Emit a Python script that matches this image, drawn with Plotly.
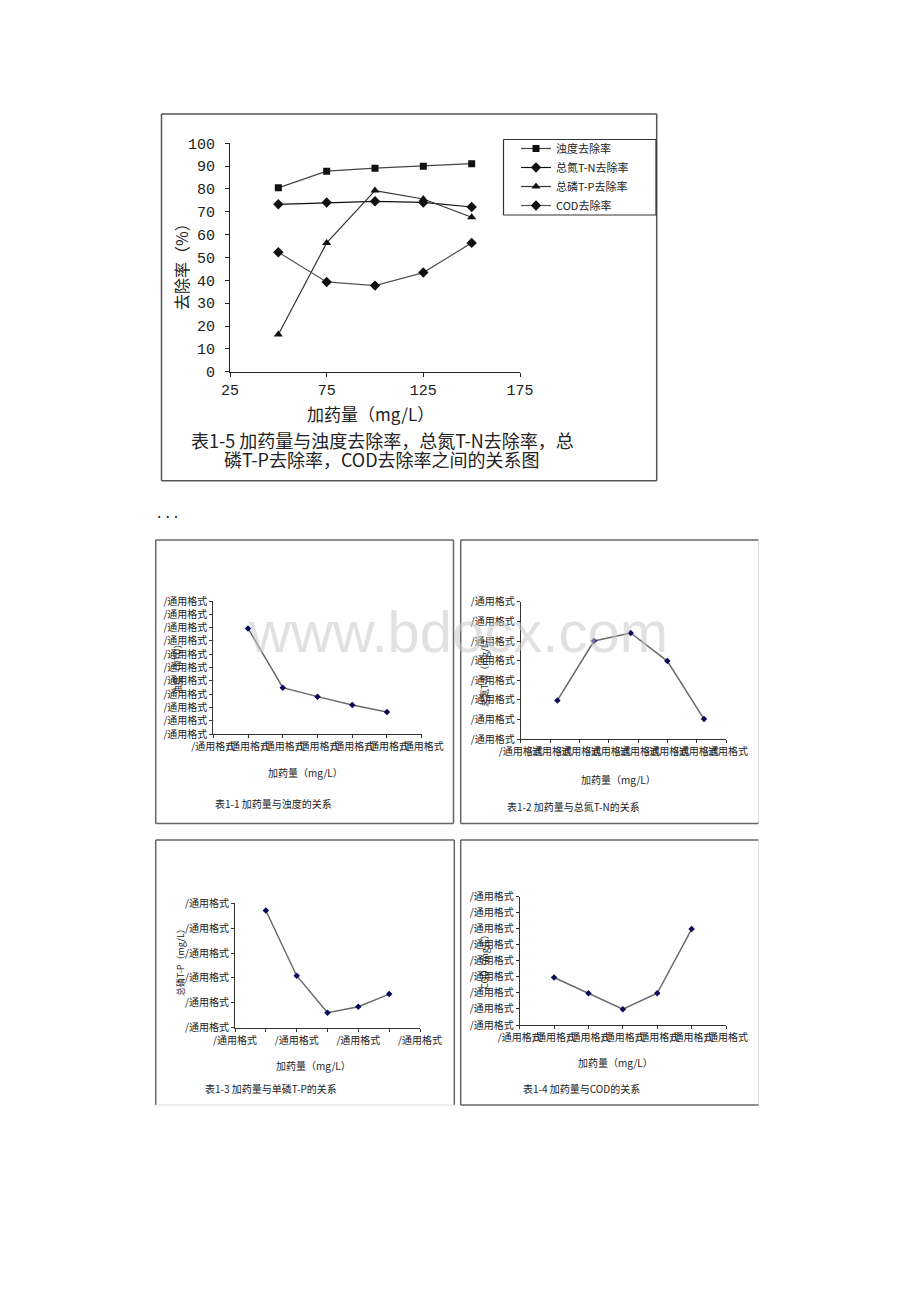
import plotly.graph_objects as go

W, H = 920, 1302
OFF = 8  # the page body margin shifts the figure by this many pixels

# ---------------- data ----------------
dose = [50, 75, 100, 125, 150]
turbidity_removal = [80.5, 87.8, 89.1, 90.0, 91.1]
tn_removal = [73.3, 74.1, 74.6, 74.1, 72.1]
tp_removal = [16.3, 56.4, 79.3, 75.6, 67.6]
cod_removal = [52.3, 39.3, 37.7, 43.4, 56.4]
series_names = ["浊度去除率", "总氮T-N去除率", "总磷T-P去除率", "COD去除率"]
top_xticks = [25, 75, 125, 175]
top_yticks = [0, 10, 20, 30, 40, 50, 60, 70, 80, 90, 100]

# small charts (values in tick units; tick labels are broken Excel format strings)
turbidity_vals = [7.94, 3.48, 2.81, 2.18, 1.65]
tn_vals = [1.98, 5.0, 5.41, 3.98, 1.03]
tp_vals = [4.71, 2.09, 0.60, 0.84, 1.35]
cod_vals = [2.96, 1.98, 0.98, 1.98, 5.98]
fmt_label = "/通用格式"
x_ticks_25 = [25, 50, 75, 100, 125, 150, 175]
x_ticks_20 = [25, 45, 65, 85, 105, 125, 145, 165]

CJK = "Noto Sans CJK SC"
MONO = "Liberation Mono"


def fx(px):
    return (px - OFF) / W


def fy(py):
    return 1 - (py - OFF) / H


fig = go.Figure()

# ---------------- top chart ----------------
top_styles = [
    dict(symbol="square", size=7, color="#111", line="#444"),
    dict(symbol="diamond", size=8, color="#111", line="#111"),
    dict(symbol="triangle-up", size=8, color="#111", line="#333"),
    dict(symbol="diamond", size=8, color="#111", line="#555"),
]
for name, vals, st in zip(series_names,
                          [turbidity_removal, tn_removal, tp_removal, cod_removal],
                          top_styles):
    fig.add_trace(go.Scatter(
        x=dose, y=vals, name=name, mode="lines+markers",
        line=dict(color=st["line"], width=1.2),
        marker=dict(symbol=st["symbol"], size=st["size"], color=st["color"]),
        xaxis="x", yaxis="y", showlegend=True, hoverinfo="skip"))

axis_common = dict(showline=True, linecolor="#222", linewidth=1, ticks="outside",
                   ticklen=4, tickcolor="#222", showgrid=False, zeroline=False,
                   fixedrange=True, tickangle=0, automargin=False)

layout = dict(
    width=W, height=H,
    margin=dict(l=0, r=0, t=0, b=0, pad=0, autoexpand=False),
    autosize=False,
    paper_bgcolor="white", plot_bgcolor="white",
    showlegend=True,
    legend=dict(x=fx(516), y=fy(134), xanchor="left", yanchor="top",
                bgcolor="rgba(0,0,0,0)", borderwidth=0,
                font=dict(family=CJK, size=11, color="#222"),
                tracegroupgap=0, itemwidth=30),
    xaxis=dict(domain=[fx(230), fx(520)], range=[25, 175], tickvals=top_xticks,
               tickfont=dict(family=MONO, size=15, color="#222"), anchor="y",
               **axis_common),
    yaxis=dict(domain=[fy(371.7), fy(143.3)], range=[0, 100], tickvals=top_yticks,
               tickfont=dict(family=MONO, size=15, color="#222"), anchor="x",
               ticklabelstandoff=7, **axis_common),
)

small_axis = dict(showline=True, linecolor="#333", linewidth=1, ticks="outside",
                  ticklen=3, tickcolor="#333", showgrid=False, zeroline=False,
                  fixedrange=True, tickangle=0, automargin=False,
                  tickfont=dict(family=CJK, size=10, color="#222"))

small_charts = [
    # (vals, xdomain px, ydomain px(bottom, top), xrange, xticks, xticktext, yrange)
    (turbidity_vals, (213.3, 421.7), (734, 601), [25, 175], x_ticks_25,
     [fmt_label] * 7, 10),
    (tn_vals, (520.7, 726), (739.3, 601.7), [25, 165], x_ticks_20,
     [fmt_label] * 8, 7),
    (tp_vals, (235, 420), (1027.7, 903.3), [25, 175], x_ticks_25,
     [fmt_label, "", fmt_label, "", fmt_label, "", fmt_label], 5),
    (cod_vals, (519.7, 726), (1025, 896.7), [25, 175], x_ticks_25,
     [fmt_label] * 7, 8),
]

for i, (vals, xd, yd, xr, xt, xtt, ymax) in enumerate(small_charts, start=2):
    fig.add_trace(go.Scatter(
        x=dose, y=vals, mode="lines+markers", showlegend=False,
        line=dict(color="#6a6a6a", width=1.5),
        marker=dict(symbol="diamond", size=5, color="#0a0a5a"),
        xaxis=f"x{i}", yaxis=f"y{i}", hoverinfo="skip"))
    layout[f"xaxis{i}"] = dict(domain=[fx(xd[0]), fx(xd[1])], range=xr,
                               tickvals=xt, ticktext=xtt, anchor=f"y{i}",
                               **small_axis)
    yt = list(range(0, ymax + 1))
    layout[f"yaxis{i}"] = dict(domain=[fy(yd[0]), fy(yd[1])], range=[0, ymax],
                               tickvals=yt, ticktext=[fmt_label] * len(yt),
                               anchor=f"x{i}", **small_axis)

fig.update_layout(**layout)


def ann(text, x, y, size, family=CJK, xanchor="center", angle=0, color="#222"):
    fig.add_annotation(text=text, x=fx(x), y=fy(y), xref="paper", yref="paper",
                       xanchor=xanchor, yanchor="middle", showarrow=False,
                       textangle=angle, font=dict(family=family, size=size, color=color))


# top chart texts
ann("去除率（%）", 181, 263, 16, angle=-90)
ann("加药量（mg/L）", 370, 414, 17)
ann("表1-5 加药量与浊度去除率，总氮T-N去除率，总", 382, 440, 18)
ann("磷T-P去除率，COD去除率之间的关系图", 382, 458.5, 18)
ann("...", 167, 514, 14, family=MONO)

# small chart texts
ann("浊度（NTU）", 177, 667, 9, angle=-90)
ann("加药量（mg/L）", 305, 773, 10)
ann("表1-1 加药量与浊度的关系", 213, 803, 10, xanchor="left")

ann("总氮T-N（mg/L）", 485, 670, 9, angle=-90)
ann("加药量（mg/L）", 618, 779, 10)
ann("表1-2 加药量与总氮T-N的关系", 504.7, 806.7, 10, xanchor="left")

ann("总磷T-P（mg/L）", 180, 960, 9, angle=-90)
ann("加药量（mg/L）", 313, 1065, 10)
ann("表1-3 加药量与单磷T-P的关系", 203.3, 1088, 10, xanchor="left")

ann("COD（mg/L）", 484, 960, 9, angle=-90)
ann("加药量（mg/L）", 615, 1062, 10)
ann("表1-4 加药量与COD的关系", 521.3, 1088, 10, xanchor="left")

# watermark
ann("www.bdocx.com", 458, 632, 58, family="Liberation Sans", color="rgba(200,200,200,0.55)")


# frame lines
def line(x0, y0, x1, y1, color="#666", width=1.5):
    fig.add_shape(type="line", xref="paper", yref="paper",
                  x0=fx(x0), y0=fy(y0), x1=fx(x1), y1=fy(y1),
                  line=dict(color=color, width=width))


def box(x0, y0, x1, y1, color="#666", right_color=None, bottom_color=None, width=1.5):
    line(x0, y0, x1, y0, color, width)
    line(x0, y0, x0, y1, color, width)
    line(x1, y0, x1, y1, right_color or color, width if right_color is None else 1)
    line(x0, y1, x1, y1, bottom_color or color, width if bottom_color is None else 1)


box(161.5, 114, 656.7, 480.7, "#555")
box(503.5, 139.5, 656, 215, "#333", width=1.2)  # legend frame
box(155.7, 540, 453.5, 823.5)
box(460.7, 540, 758.5, 823.5, right_color="#dddddd")
box(155.7, 840, 454.3, 1105, bottom_color="#dddddd")
box(460.7, 840, 758.5, 1105, right_color="#dddddd")

fig.write_html("out.html")
